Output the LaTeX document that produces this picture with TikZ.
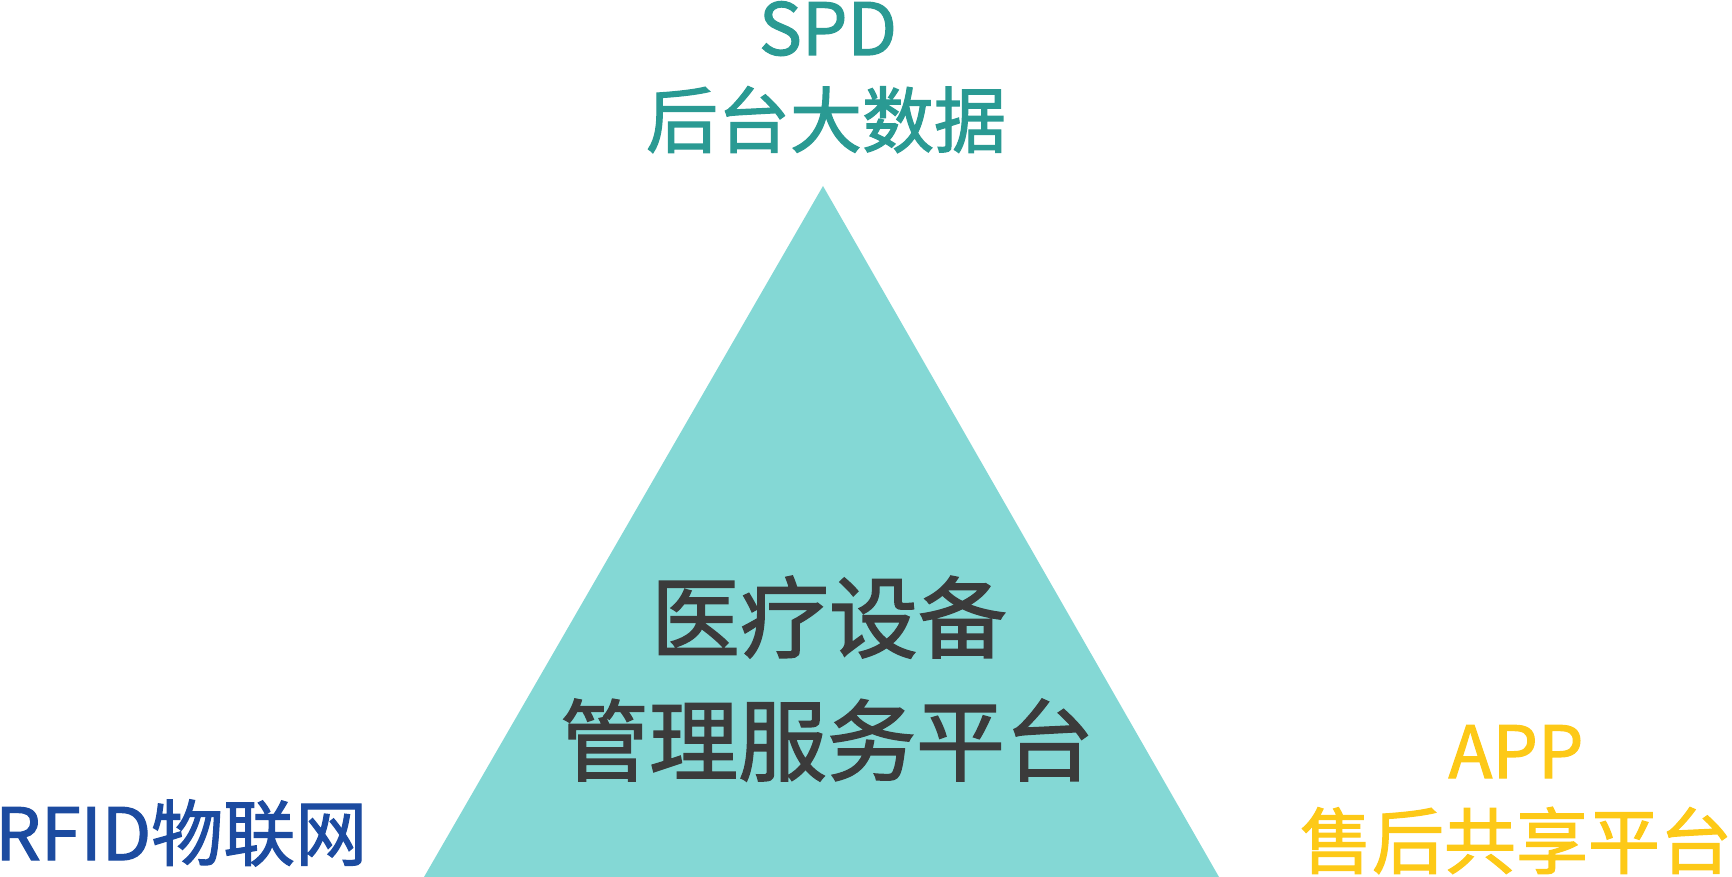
\documentclass[tikz,border=0pt]{standalone}
\usepackage{fontspec}
\usepackage{xcolor}
\setmainfont{Noto Sans CJK SC}[RawFeature={embolden=1.6}]
\definecolor{tealtext}{HTML}{2A9A93}
\definecolor{trifill}{HTML}{84D8D5}
\definecolor{darktext}{HTML}{3B3B3B}
\definecolor{bluetext}{HTML}{1C4BA0}
\definecolor{goldtext}{HTML}{FDC917}
\newcommand{\bigfont}{\fontsize{72}{80}\selectfont}
\newcommand{\hugefont}{\fontsize{89}{100}\selectfont}
\tikzset{
  lbl/.style={inner sep=0pt, anchor=base, font=\bigfont},
  spdlbl/.style={lbl, text=tealtext},
  applbl/.style={lbl, text=goldtext},
  rfidlbl/.style={lbl, anchor=base west, text=bluetext},
  mainlbl/.style={inner sep=0pt, anchor=base, font=\hugefont, text=darktext}
}

\begin{document}
\begin{tikzpicture}[x=1pt,y=-1pt]
		\useasboundingbox (0,0) rectangle (1732,877);
		% triangle
		\coordinate (top) at (823,186);
		\coordinate (left) at (424,877);
		\coordinate (right) at (1219,877);
		\fill[trifill] (top) -- (left) -- (right) -- cycle;
		% labels
		\node[spdlbl] (spd) at (828,55) {SPD};
		\node[spdlbl] (spdcn) at (826,147) {后台大数据};
		\node[mainlbl] (main1) at (829,651) {医疗设备};
		\node[mainlbl] (main2) at (827,774) {管理服务平台};
		\node[rfidlbl] (rfid) at (-5,860) {RFID物联网};
		\node[applbl] (app) at (1516,778) {APP};
		\node[applbl] (appcn) at (1516,868) {售后共享平台};
\end{tikzpicture}
\end{document}
